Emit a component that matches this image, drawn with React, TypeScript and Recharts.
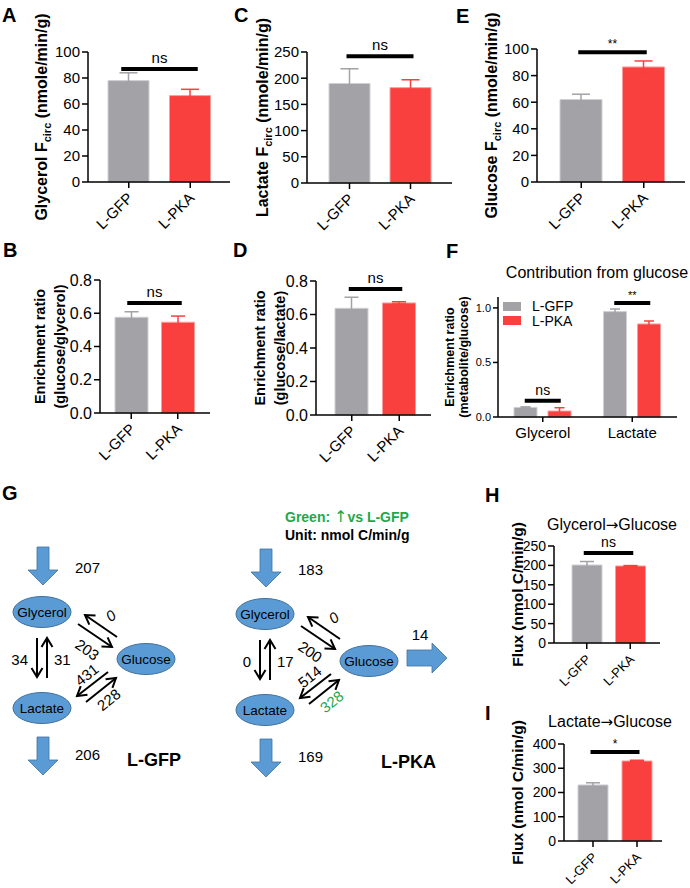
import React from "react";
import {
  Bar,
  BarChart,
  Cell,
  ErrorBar,
  Legend,
  ReferenceLine,
  XAxis,
  YAxis,
} from "recharts";

const FONT = "Arial, 'Liberation Sans', Helvetica, sans-serif";
const ARROW_FONT = "'DejaVu Sans', sans-serif";
const GRAY = "#a2a2a7";
const GRAY_EDGE = "#d0d0d4";
const RED = "#fa3f3f";
const RED_EDGE = "#ff9c9c";
const BLUE = "#5b9bd5";
const BLUE_EDGE = "#41719c";
const GREEN = "#1ea84c";

// groups used by every two-bar panel
const groups = ["L-GFP", "L-PKA"];

// A: glycerol Fcirc
const glycerolFcirc = [78, 66.5];
const glycerolFcircSem = [6, 4.8];
// C: lactate Fcirc
const lactateFcirc = [190, 182];
const lactateFcircSem = [28, 15];
// E: glucose Fcirc
const glucoseFcirc = [62, 86.5];
const glucoseFcircSem = [4, 4.5];
// B: glucose/glycerol enrichment ratio
const ratioGlyc = [0.576, 0.546];
const ratioGlycSem = [0.033, 0.037];
// D: glucose/lactate enrichment ratio
const ratioLac = [0.637, 0.669];
const ratioLacSem = [0.066, 0.007];
// F: contribution from glucose
const contribCats = ["Glycerol", "Lactate"];
const contribGfp = [0.088, 0.966];
const contribGfpSem = [0.005, 0.024];
const contribPka = [0.055, 0.853];
const contribPkaSem = [0.03, 0.027];
// H / I: fluxes to glucose
const glyToGlcFlux = [201, 198.5];
const glyToGlcSem = [9, 1];
const lacToGlcFlux = [231, 330];
const lacToGlcSem = [9, 3];

const pctTicks = [0, 20, 40, 60, 80, 100];
const lacTicks = [0, 50, 100, 150, 200, 250];
const ratioTicks = [0, 0.2, 0.4, 0.6, 0.8];
const contribTicks = [0, 0.5, 1.0];
const fluxHTicks = [0, 50, 100, 150, 200, 250];
const fluxITicks = [0, 100, 200, 300, 400];

// panel G flux values (nmol C/min/g)
const gfpFlux = { inflow: "207", glyLac: "34", lacGly: "31", glcGly: "0", glyGlc: "203", glcLac: "431", lacGlc: "228", outflow: "206" };
const pkaFlux = { inflow: "183", glyLac: "0", lacGly: "17", glcGly: "0", glyGlc: "200", glcLac: "514", lacGlc: "328", outflow: "169", glcOut: "14" };

type Sig = { y: number; ext: number; text: string; size: number; gap?: number };

const sigShape = (s: Sig) => (lp: any) => {
  const xa = Math.min(lp.x1, lp.x2) - s.ext;
  const xb = Math.max(lp.x1, lp.x2) + s.ext;
  return (
    <g>
      <line x1={xa} x2={xb} y1={lp.y1} y2={lp.y1} stroke="#000" strokeWidth={4} />
      <text x={(xa + xb) / 2} y={lp.y1 - (s.gap ?? 6)} textAnchor="middle" fontSize={s.size} fill="#000">
        {s.text}
      </text>
    </g>
  );
};

const YLabel = ({ lines, xs, cy, fs }: { lines: React.ReactNode[]; xs: number[]; cy: number; fs: number }) => (
  <g>
    {lines.map((ln, i) => {
      const bx = xs[i] + 0.36 * fs;
      return (
        <text key={i} x={bx} y={cy} transform={`rotate(-90 ${bx} ${cy})`} textAnchor="middle" fontSize={fs} fontWeight="bold" fill="#000">
          {ln}
        </text>
      );
    })}
  </g>
);

const RotTick = (props: any) => {
  const { x, y, payload, fs } = props;
  const tx = x + 5;
  const ty = y + 9;
  return (
    <text x={tx} y={ty} transform={`rotate(-45 ${tx} ${ty})`} textAnchor="end" fontSize={fs} fill="#000">
      {payload.value}
    </text>
  );
};

type PairProps = {
  axisX: number;
  plotTop: number;
  zeroY: number;
  xEnd: number;
  values: number[];
  sems: number[];
  domain: [number, number];
  ticks: number[];
  tickFmt?: (v: number) => string;
  tickFont: number;
  padL: number;
  padR: number;
  barSize: number;
  sig: Sig;
  lines: React.ReactNode[];
  labelXs: number[];
  labelSize: number;
  xFont: number;
};

function PairPanel(p: PairProps) {
  const mt = 48;
  const xH = 60;
  const mr = 4;
  const yW = p.axisX - (Math.min(...p.labelXs) - 12);
  const left = p.axisX - yW;
  const top = p.plotTop - mt;
  const width = yW + (p.xEnd - p.axisX) + mr;
  const height = mt + (p.zeroY - p.plotTop) + xH;
  const data = groups.map((name, i) => ({
    name,
    value: p.values[i],
    semGfp: i === 0 ? p.sems[i] : undefined,
    semPka: i === 1 ? p.sems[i] : undefined,
  }));
  const cy = mt + (p.zeroY - p.plotTop) / 2;
  const capW = Math.round(p.barSize * 0.22);

  return (
    <div style={{ position: "absolute", left, top, width, height }}>
      <BarChart width={width} height={height} data={data} margin={{ top: mt, right: mr, bottom: 0, left: 0 }}>
        <XAxis
          dataKey="name"
          height={xH}
          interval={0}
          padding={{ left: p.padL, right: p.padR }}
          axisLine={{ stroke: "#000", strokeWidth: 1.5 }}
          tickLine={{ stroke: "#000", strokeWidth: 1.5 }}
          tickSize={6}
          tick={(tp: any) => <RotTick {...tp} fs={p.xFont} />}
        />
        <YAxis
          width={yW}
          domain={p.domain}
          ticks={p.ticks}
          interval={0}
          tickFormatter={p.tickFmt}
          axisLine={{ stroke: "#000", strokeWidth: 1.5 }}
          tickLine={{ stroke: "#000", strokeWidth: 1.5 }}
          tickSize={6}
          tick={{ fill: "#000", fontSize: p.tickFont }}
          label={() => <YLabel lines={p.lines} xs={p.labelXs.map((x) => x - left)} cy={cy} fs={p.labelSize} />}
        />
        <Bar dataKey="value" barSize={p.barSize} isAnimationActive={false}>
          {data.map((d, i) => (
            <Cell key={d.name} fill={i === 0 ? GRAY : RED} stroke={i === 0 ? GRAY_EDGE : RED_EDGE} strokeWidth={1} />
          ))}
          <ErrorBar dataKey="semGfp" width={capW} stroke={GRAY} strokeWidth={1.5} />
          <ErrorBar dataKey="semPka" width={capW} stroke={RED} strokeWidth={1.5} />
        </Bar>
        <ReferenceLine
          segment={[
            { x: groups[0], y: p.sig.y },
            { x: groups[1], y: p.sig.y },
          ]}
          ifOverflow="visible"
          shape={sigShape(p.sig)}
        />
      </BarChart>
    </div>
  );
}

function ContribPanel() {
  const axisX = 498;
  const plotTop = 297;
  const zeroY = 417;
  const xEnd = 677;
  const mt = 10;
  const xH = 30;
  const mr = 4;
  const labelXs = [449, 463];
  const yW = axisX - (labelXs[0] - 12);
  const left = axisX - yW;
  const top = plotTop - mt;
  const width = yW + (xEnd - axisX) + mr;
  const height = mt + (zeroY - plotTop) + xH;
  const cy = mt + (zeroY - plotTop) / 2;
  const data = contribCats.map((name, i) => ({
    name,
    gfp: contribGfp[i],
    gfpSem: contribGfpSem[i],
    pka: contribPka[i],
    pkaSem: contribPkaSem[i],
  }));
  const legendItems = [
    { label: groups[0], color: GRAY },
    { label: groups[1], color: RED },
  ];

  return (
    <div style={{ position: "absolute", left, top, width, height }}>
      <BarChart width={width} height={height} data={data} barGap={11} margin={{ top: mt, right: mr, bottom: 0, left: 0 }}>
        <XAxis
          dataKey="name"
          height={xH}
          interval={0}
          axisLine={{ stroke: "#000", strokeWidth: 1.5 }}
          tickLine={{ stroke: "#000", strokeWidth: 1.5 }}
          tickSize={5}
          tick={{ fill: "#000", fontSize: 15, dy: 3 }}
        />
        <YAxis
          width={yW}
          domain={[0, 1.1]}
          ticks={contribTicks}
          interval={0}
          tickFormatter={(v: number) => v.toFixed(1)}
          axisLine={{ stroke: "#000", strokeWidth: 1.5 }}
          tickLine={{ stroke: "#000", strokeWidth: 1.5 }}
          tickSize={5}
          tick={{ fill: "#000", fontSize: 11 }}
          label={() => (
            <YLabel lines={["Enrichment ratio", "(metabolite/glucose)"]} xs={labelXs.map((x) => x - left)} cy={cy} fs={12.5} />
          )}
        />
        <Legend
          layout="vertical"
          align="center"
          verticalAlign="middle"
          wrapperStyle={{ left: 503 - left, top: 299 - top, width: 90 }}
          content={() => (
            <div style={{ fontSize: 14, lineHeight: "14px", fontFamily: FONT }}>
              {legendItems.map((it) => (
                <div key={it.label} style={{ display: "flex", alignItems: "center", height: 14.5 }}>
                  <span style={{ display: "inline-block", width: 18, height: 9, background: it.color, marginRight: 11 }} />
                  <span>{it.label}</span>
                </div>
              ))}
            </div>
          )}
        />
        <Bar dataKey="gfp" name={groups[0]} barSize={23} fill={GRAY} stroke={GRAY_EDGE} isAnimationActive={false}>
          <ErrorBar dataKey="gfpSem" width={5} stroke={GRAY} strokeWidth={1.5} />
        </Bar>
        <Bar dataKey="pka" name={groups[1]} barSize={23} fill={RED} stroke={RED_EDGE} isAnimationActive={false}>
          <ErrorBar dataKey="pkaSem" width={5} stroke={RED} strokeWidth={1.5} />
        </Bar>
        <ReferenceLine
          segment={[
            { x: contribCats[0], y: 0.15 },
            { x: contribCats[0], y: 0.15 },
          ]}
          ifOverflow="visible"
          shape={sigShape({ y: 0.15, ext: 18, text: "ns", size: 14 })}
        />
        <ReferenceLine
          segment={[
            { x: contribCats[1], y: 1.045 },
            { x: contribCats[1], y: 1.045 },
          ]}
          ifOverflow="visible"
          shape={sigShape({ y: 1.045, ext: 18, text: "**", size: 11, gap: 4 })}
        />
      </BarChart>
    </div>
  );
}

// ---------- panel G diagram ----------
const Arrow = ({ x1, y1, x2, y2, color = "#000" }: { x1: number; y1: number; x2: number; y2: number; color?: string }) => {
  const dx = x2 - x1;
  const dy = y2 - y1;
  const len = Math.hypot(dx, dy);
  const ux = dx / len;
  const uy = dy / len;
  const hl = 9;
  const hw = 5.5;
  const bx = x2 - ux * hl;
  const by = y2 - uy * hl;
  const p1 = `${bx - uy * hw},${by + ux * hw}`;
  const p2 = `${bx + uy * hw},${by - ux * hw}`;
  return (
    <g stroke={color} strokeWidth={2} fill="none">
      <line x1={x1} y1={y1} x2={x2} y2={y2} />
      <polyline points={`${p1} ${x2},${y2} ${p2}`} />
    </g>
  );
};

const BlueDown = ({ cx, top, bottom }: { cx: number; top: number; bottom: number }) => {
  const hs = bottom - 15;
  const pts = [
    [cx - 6, top],
    [cx + 6, top],
    [cx + 6, hs],
    [cx + 15, hs],
    [cx, bottom],
    [cx - 15, hs],
    [cx - 6, hs],
  ];
  return <polygon points={pts.map((q) => q.join(",")).join(" ")} fill={BLUE} stroke={BLUE_EDGE} strokeWidth={0.8} />;
};

const BlueRight = ({ left, right, cy }: { left: number; right: number; cy: number }) => {
  const hs = right - 15;
  const pts = [
    [left, cy - 8],
    [hs, cy - 8],
    [hs, cy - 15],
    [right, cy],
    [hs, cy + 15],
    [hs, cy + 8],
    [left, cy + 8],
  ];
  return <polygon points={pts.map((q) => q.join(",")).join(" ")} fill={BLUE} stroke={BLUE_EDGE} strokeWidth={0.8} />;
};

const Node = ({ cx, cy, label }: { cx: number; cy: number; label: string }) => (
  <g>
    <ellipse cx={cx} cy={cy} rx={29} ry={15.5} fill={BLUE} stroke={BLUE_EDGE} strokeWidth={1} />
    <text x={cx} y={cy + 5} textAnchor="middle" fontSize={13.5} fill="#000">
      {label}
    </text>
  </g>
);

const RotText = ({ x, y, angle, children, fill = "#000", italic = false }: any) => (
  <text
    x={x}
    y={y + 5}
    transform={`rotate(${angle} ${x} ${y})`}
    textAnchor="middle"
    fontSize={15}
    fill={fill}
    fontStyle={italic ? "italic" : "normal"}
  >
    {children}
  </text>
);

const Block = ({ ox, oy, v, name, nameX, lacGlcColor }: { ox: number; oy: number; v: any; name: string; nameX: number; lacGlcColor: string }) => (
  <g transform={`translate(${ox} ${oy})`}>
    <BlueDown cx={43} top={547} bottom={585} />
    <text x={75} y={573} fontSize={15}>{v.inflow}</text>
    <Node cx={42} cy={612} label="Glycerol" />
    <Arrow x1={37} y1={638} x2={37} y2={677} />
    <Arrow x1={47} y1={678} x2={47} y2={638} />
    <text x={28} y={665} fontSize={15} textAnchor="end">{v.glyLac}</text>
    <text x={54} y={665} fontSize={15}>{v.lacGly}</text>
    <Node cx={42} cy={708} label="Lactate" />
    <Node cx={146} cy={659} label="Glucose" />
    <Arrow x1={117} y1={637} x2={85} y2={615} />
    <Arrow x1={78} y1={624} x2={112} y2={647} />
    <RotText x={111} y={616} angle={-38} italic>{v.glcGly}</RotText>
    <RotText x={87} y={650} angle={35}>{v.glyGlc}</RotText>
    <Arrow x1={108} y1={672} x2={77} y2={696} />
    <Arrow x1={86} y1={702} x2={116} y2={678} />
    <RotText x={87} y={675} angle={-38}>{v.glcLac}</RotText>
    <RotText x={109} y={700} angle={-38} fill={lacGlcColor}>{v.lacGlc}</RotText>
    <BlueDown cx={43} top={737} bottom={775} />
    <text x={75} y={760} fontSize={15}>{v.outflow}</text>
    <text x={nameX} y={766} fontSize={18} fontWeight="bold">{name}</text>
  </g>
);

const letterStyle = { fontSize: 20, fontWeight: "bold" as const };

function Overlay() {
  return (
    <svg width={690} height={888} style={{ position: "absolute", left: 0, top: 0, pointerEvents: "none", fontFamily: FONT }}>
      <text x={2} y={22} {...letterStyle}>A</text>
      <text x={234} y={22} {...letterStyle}>C</text>
      <text x={456} y={23} {...letterStyle}>E</text>
      <text x={3} y={257} {...letterStyle}>B</text>
      <text x={233} y={257} {...letterStyle}>D</text>
      <text x={446} y={258} {...letterStyle}>F</text>
      <text x={2} y={500} {...letterStyle}>G</text>
      <text x={485} y={502} {...letterStyle}>H</text>
      <text x={485} y={720} {...letterStyle}>I</text>

      <text x={597} y={278} textAnchor="middle" fontSize={16}>Contribution from glucose</text>
      <text x={612} y={530} textAnchor="middle" fontSize={16}>
        Glycerol<tspan fontFamily={ARROW_FONT} fontSize={15}>→</tspan>Glucose
      </text>
      <text x={610} y={727} textAnchor="middle" fontSize={16}>
        Lactate<tspan fontFamily={ARROW_FONT} fontSize={15}>→</tspan>Glucose
      </text>

      <text x={285} y={522} fontSize={14} fontWeight="bold" fill={GREEN}>
        Green: <tspan fontFamily={ARROW_FONT} fontWeight="normal" fontSize={16}>↑</tspan>vs L-GFP
      </text>
      <text x={285} y={540} fontSize={14} fontWeight="bold" fill="#000">Unit: nmol C/min/g</text>

      <Block ox={0} oy={0} v={gfpFlux} name="L-GFP" nameX={127} lacGlcColor="#000" />
      <Block ox={223} oy={2} v={pkaFlux} name="L-PKA" nameX={158} lacGlcColor={GREEN} />
      <BlueRight left={407} right={447} cy={658} />
      <text x={420} y={640} fontSize={15} textAnchor="middle">{pkaFlux.glcOut}</text>
    </svg>
  );
}

const fcircLabel = (name: string) => [
  <>
    {name} F<tspan fontSize={11} dy={4}>circ</tspan>
    <tspan dy={-4}> (nmole/min/g)</tspan>
  </>,
];

export default function App() {
  return (
    <div style={{ position: "absolute", left: 0, top: 0, width: 690, height: 888, background: "#fff", fontFamily: FONT }}>
      <PairPanel
        axisX={88} plotTop={52} zeroY={182} xEnd={230}
        values={glycerolFcirc} sems={glycerolFcircSem}
        domain={[0, 100]} ticks={pctTicks} tickFont={15}
        padL={10} padR={9} barSize={41}
        sig={{ y: 87, ext: 7.5, text: "ns", size: 15 }}
        lines={fcircLabel("Glycerol")} labelXs={[41]} labelSize={16}
        xFont={15}
      />
      <PairPanel
        axisX={307} plotTop={52} zeroY={183} xEnd={452}
        values={lactateFcirc} sems={lactateFcircSem}
        domain={[0, 250]} ticks={lacTicks} tickFont={15}
        padL={12} padR={11} barSize={41}
        sig={{ y: 242, ext: 3, text: "ns", size: 15 }}
        lines={fcircLabel("Lactate")} labelXs={[262]} labelSize={16}
        xFont={15}
      />
      <PairPanel
        axisX={537} plotTop={49} zeroY={182} xEnd={685}
        values={glucoseFcirc} sems={glucoseFcircSem}
        domain={[0, 100]} ticks={pctTicks} tickFont={15}
        padL={13} padR={10} barSize={42}
        sig={{ y: 97.5, ext: 3, text: "**", size: 12, gap: 4 }}
        lines={fcircLabel("Glucose")} labelXs={[491]} labelSize={16}
        xFont={15}
      />
      <PairPanel
        axisX={100} plotTop={280} zeroY={413} xEnd={210}
        values={ratioGlyc} sems={ratioGlycSem}
        domain={[0, 0.8]} ticks={ratioTicks} tickFmt={(v) => v.toFixed(1)} tickFont={16}
        padL={8} padR={9} barSize={33}
        sig={{ y: 0.662, ext: 4, text: "ns", size: 15 }}
        lines={["Enrichment ratio", "(glucose/glycerol)"]} labelXs={[40, 60]} labelSize={14.5}
        xFont={15}
      />
      <PairPanel
        axisX={316} plotTop={281} zeroY={415} xEnd={431}
        values={ratioLac} sems={ratioLacSem}
        domain={[0, 0.8]} ticks={ratioTicks} tickFmt={(v) => v.toFixed(1)} tickFont={16}
        padL={12} padR={8} barSize={33}
        sig={{ y: 0.752, ext: 3, text: "ns", size: 15 }}
        lines={["Enrichment ratio", "(glucose/lactate)"]} labelXs={[260, 280]} labelSize={14.5}
        xFont={15}
      />
      <ContribPanel />
      <PairPanel
        axisX={554} plotTop={546} zeroY={643} xEnd={660}
        values={glyToGlcFlux} sems={glyToGlcSem}
        domain={[0, 250]} ticks={fluxHTicks} tickFont={14}
        padL={11} padR={8} barSize={30}
        sig={{ y: 232, ext: 3, text: "ns", size: 14 }}
        lines={["Flux (nmol C/min/g)"]} labelXs={[517]} labelSize={15.5}
        xFont={13}
      />
      <PairPanel
        axisX={564} plotTop={744} zeroY={841} xEnd={662}
        values={lacToGlcFlux} sems={lacToGlcSem}
        domain={[0, 400]} ticks={fluxITicks} tickFont={14}
        padL={7} padR={3} barSize={30}
        sig={{ y: 367, ext: 2.5, text: "*", size: 12, gap: 4 }}
        lines={["Flux (nmol C/min/g)"]} labelXs={[517]} labelSize={15.5}
        xFont={13}
      />
      <Overlay />
    </div>
  );
}
